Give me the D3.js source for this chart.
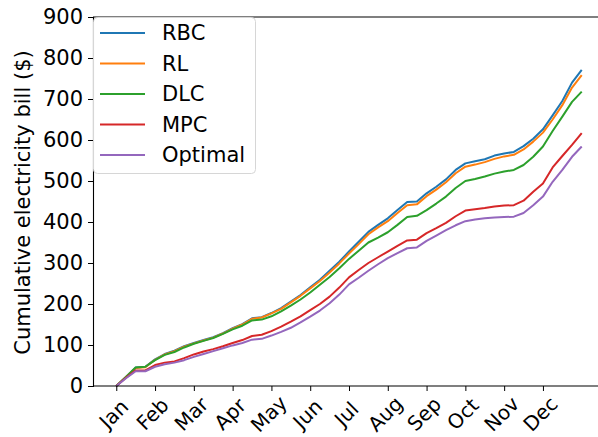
<!DOCTYPE html>
<html>
<head>
<meta charset="utf-8">
<script src="https://cdn.jsdelivr.net/npm/d3@7"></script>
<style>
  body { margin: 0; background: #fff; }
  svg { display: block; font-family: "DejaVu Sans", sans-serif; }
</style>
</head>
<body>
<svg id="chart" width="598" height="437"></svg>
<script>
// x positions are month indices, sampled every quarter month (0 = start of Jan, 12 = end of Dec)
const months = ['Jan', 'Feb', 'Mar', 'Apr', 'May', 'Jun', 'Jul', 'Aug', 'Sep', 'Oct', 'Nov', 'Dec'];
const yTicks = [0, 100, 200, 300, 400, 500, 600, 700, 800, 900];
const seriesNames = ['RBC', 'RL', 'DLC', 'MPC', 'Optimal'];
const seriesColors = ['#1f77b4', '#ff7f0e', '#2ca02c', '#d62728', '#9467bd'];

const rbc = [0, 22, 45, 47, 65, 78, 86, 97, 105, 112, 119, 129, 141, 151, 165, 168, 178, 190, 206, 222,
  241, 259, 281, 303, 328, 352, 376, 393, 409, 429, 449, 450, 470, 486, 504, 527, 543, 548, 553, 562,
  567, 571, 585, 603, 626, 660, 695, 740, 771];
const rl = [0, 22, 44, 46, 64, 77, 85, 96, 104, 111, 118, 128, 140, 150, 164, 167, 177, 188, 204, 220,
  238, 256, 277, 299, 323, 346, 370, 387, 402, 422, 441, 443, 463, 479, 497, 519, 535, 540, 546, 554,
  560, 564, 577, 596, 618, 650, 685, 728, 758];
const dlc = [0, 22, 45, 47, 63, 76, 83, 94, 103, 110, 117, 127, 138, 147, 160, 162, 170, 182, 196, 211,
  228, 247, 266, 287, 310, 330, 350, 362, 375, 393, 412, 415, 429, 445, 462, 483, 500, 505, 511, 518,
  523, 527, 539, 559, 584, 622, 657, 693, 718];
const mpc = [0, 20, 38, 38, 51, 57, 60, 68, 77, 84, 90, 97, 105, 112, 122, 125, 134, 145, 157, 170,
  185, 200, 218, 240, 265, 283, 300, 314, 328, 342, 355, 357, 373, 385, 398, 414, 428, 431, 434, 438,
  440, 441, 452, 474, 494, 533, 561, 588, 617];
const optimal = [0, 19, 36, 36, 47, 53, 57, 63, 71, 78, 85, 92, 99, 105, 113, 115, 123, 132, 142, 155,
  169, 184, 202, 223, 248, 264, 281, 297, 312, 324, 336, 338, 354, 367, 380, 392, 402, 406, 409, 411,
  412, 413, 422, 441, 462, 498, 527, 559, 584];

const seriesValues = [rbc, rl, dlc, mpc, optimal];
const step = 0.25;

const svg = d3.select('#chart');
const fontSize = 21;

const plot = { left: 93, right: 605, top: 17, bottom: 386 };

const x = d3.scaleLinear().domain([-0.6, 12.6]).range([plot.left, plot.right]);
const y = d3.scaleLinear().domain([0, 900]).range([plot.bottom, plot.top]);

// lines
const line = d3.line()
  .x((d, i) => x(i * step))
  .y(d => y(d));

const linesG = svg.append('g');
seriesValues.forEach((vals, k) => {
  linesG.append('path')
    .datum(vals)
    .attr('d', line)
    .attr('fill', 'none')
    .attr('stroke', seriesColors[k])
    .attr('stroke-width', 2)
    .attr('stroke-linejoin', 'round');
});

// spines
svg.append('line')
  .attr('x1', plot.left).attr('x2', plot.right)
  .attr('y1', plot.top).attr('y2', plot.top)
  .attr('stroke', '#000').attr('stroke-width', 1.1);
svg.append('line')
  .attr('x1', plot.left).attr('x2', plot.right)
  .attr('y1', plot.bottom).attr('y2', plot.bottom)
  .attr('stroke', '#000').attr('stroke-width', 1.1);

// y axis
const yAxis = svg.append('g')
  .attr('transform', `translate(${plot.left},0)`)
  .call(d3.axisLeft(y).tickValues(yTicks).tickSize(5).tickPadding(5).tickFormat(d3.format('d')));
yAxis.select('.domain').attr('stroke', '#000').attr('stroke-width', 1.1);
yAxis.selectAll('.tick line').attr('stroke', '#000').attr('stroke-width', 1);
yAxis.selectAll('.tick text')
  .attr('fill', '#000')
  .style('font-size', fontSize + 'px')
  .style('font-family', '"DejaVu Sans", sans-serif');

// x axis (ticks only, month labels rotated 45deg and centred under the tick)
const xAxis = svg.append('g')
  .attr('transform', `translate(0,${plot.bottom})`)
  .call(d3.axisBottom(x).tickValues(d3.range(12)).tickSize(5).tickFormat(''));
xAxis.select('.domain').remove();
xAxis.selectAll('.tick line').attr('stroke', '#000').attr('stroke-width', 1);

const labelsG = svg.append('g');
months.forEach((m, i) => {
  labelsG.append('text')
    .attr('text-anchor', 'middle')
    .attr('dominant-baseline', 'central')
    .attr('transform', `translate(${x(i) - 2.5},${plot.bottom + 28}) rotate(-45)`)
    .style('font-size', '20px')
    .attr('fill', '#000')
    .text(m);
});

// y label
svg.append('text')
  .attr('transform', `translate(23,${(plot.top + plot.bottom) / 2 + 1}) rotate(-90)`)
  .attr('text-anchor', 'middle')
  .attr('dominant-baseline', 'central')
  .style('font-size', fontSize + 'px')
  .attr('fill', '#000')
  .text('Cumulative electricity bill ($)');

// legend
const legend = svg.append('g').attr('transform', 'translate(93,17)');
legend.append('rect')
  .attr('x', 0.5).attr('y', 0.5)
  .attr('width', 162).attr('height', 156)
  .attr('rx', 4)
  .attr('fill', '#fff').attr('fill-opacity', 0.8)
  .attr('stroke', '#d6d6d6').attr('stroke-width', 1);
seriesNames.forEach((name, k) => {
  const cy = 16 + k * 30.5;
  legend.append('line')
    .attr('x1', 7).attr('x2', 52)
    .attr('y1', cy).attr('y2', cy)
    .attr('stroke', seriesColors[k]).attr('stroke-width', 2);
  legend.append('text')
    .attr('x', 69).attr('y', cy)
    .attr('dominant-baseline', 'central')
    .style('font-size', fontSize + 'px')
    .attr('fill', '#000')
    .text(name);
});
</script>
</body>
</html>
